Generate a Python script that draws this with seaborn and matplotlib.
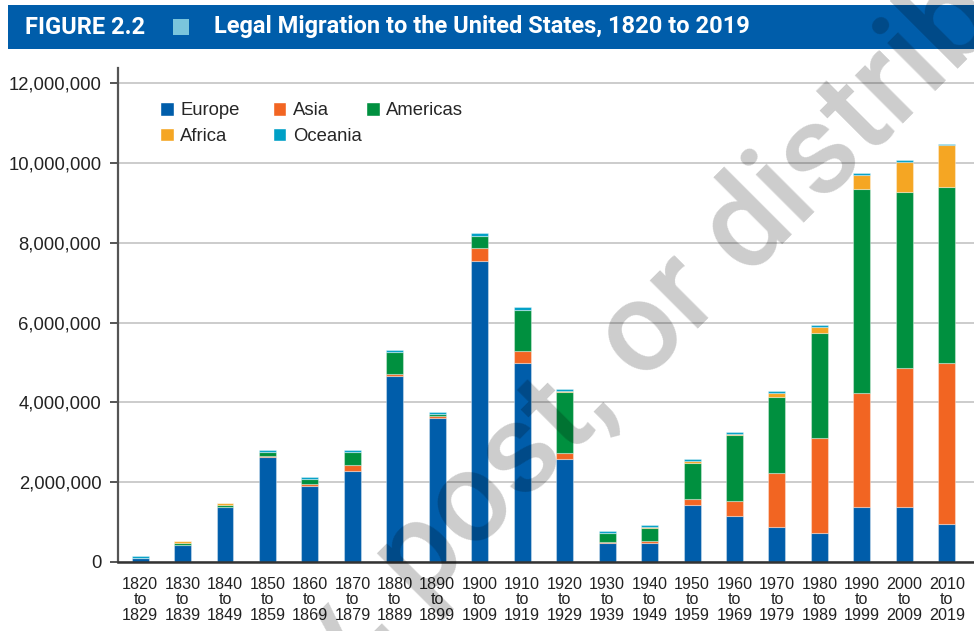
import numpy as np
import pandas as pd
import matplotlib
matplotlib.use("Agg")
import matplotlib.pyplot as plt
import seaborn as sns
from matplotlib.patches import Patch, Rectangle
from matplotlib.ticker import FuncFormatter

# decades on the x axis
decades = ["1820\nto\n1829", "1830\nto\n1839", "1840\nto\n1849", "1850\nto\n1859",
           "1860\nto\n1869", "1870\nto\n1879", "1880\nto\n1889", "1890\nto\n1899",
           "1900\nto\n1909", "1910\nto\n1919", "1920\nto\n1929", "1930\nto\n1939",
           "1940\nto\n1949", "1950\nto\n1959", "1960\nto\n1969", "1970\nto\n1979",
           "1980\nto\n1989", "1990\nto\n1999", "2000\nto\n2009", "2010\nto\n2019"]

# immigrants per decade, millions
europe = [0.10, 0.42, 1.37, 2.64, 1.91, 2.27, 4.67, 3.62, 7.55, 4.99,
          2.57, 0.47, 0.48, 1.43, 1.15, 0.87, 0.72, 1.39, 1.39, 0.95]
asia = [0.00, 0.00, 0.01, 0.02, 0.05, 0.15, 0.04, 0.04, 0.33, 0.29,
        0.15, 0.02, 0.05, 0.15, 0.38, 1.37, 2.38, 2.84, 3.47, 4.04]
americas = [0.01, 0.05, 0.05, 0.10, 0.13, 0.33, 0.56, 0.05, 0.28, 1.03,
            1.55, 0.23, 0.33, 0.89, 1.66, 1.90, 2.65, 5.13, 4.41, 4.40]
africa = [0.00, 0.05, 0.04, 0.00, 0.00, 0.00, 0.00, 0.01, 0.01, 0.01,
          0.01, 0.01, 0.01, 0.06, 0.02, 0.10, 0.15, 0.34, 0.76, 1.05]
oceania = [0.04, 0.01, 0.01, 0.05, 0.05, 0.05, 0.05, 0.05, 0.07, 0.06,
           0.05, 0.05, 0.06, 0.05, 0.06, 0.05, 0.04, 0.04, 0.05, 0.04]

regions = ["Europe", "Asia", "Americas", "Africa", "Oceania"]
colors = {"Europe": "#005DAA", "Asia": "#F26522", "Americas": "#00903F",
          "Africa": "#F5A623", "Oceania": "#00A0C6"}
series = {"Europe": europe, "Asia": asia, "Americas": americas,
          "Africa": africa, "Oceania": oceania}

sns.set_style("white")
plt.rcParams["font.family"] = ["Liberation Sans", "DejaVu Sans"]

fig = plt.figure(figsize=(9.74, 6.31), dpi=100)
ax = fig.add_axes([118/974, 1-562/631, 1-118/974, (562-68)/631])

bottom = np.zeros(len(decades))
for r in regions:
    vals = np.array(series[r]) * 1e6
    sns.barplot(x=decades, y=vals, bottom=bottom, color=colors[r], width=0.4,
                saturation=1, errorbar=None, ax=ax,
                edgecolor=(1, 1, 1, 0.35), linewidth=0.8)
    bottom += vals

ax.set_ylim(0, 12.38e6)
ax.set_xlim(-0.52, 19.64)
ax.set_yticks(np.arange(0, 12.1e6, 2e6))
ax.yaxis.set_major_formatter(FuncFormatter(lambda v, p: f"{v:,.0f}"))
ax.yaxis.grid(True, color="#cccccc", linewidth=1.4)
ax.set_axisbelow(True)
for s in ["top", "right"]:
    ax.spines[s].set_visible(False)
ax.spines["left"].set_color("#555555")
ax.spines["left"].set_linewidth(1.6)
ax.spines["bottom"].set_color("#333333")
ax.spines["bottom"].set_linewidth(1.8)
ax.tick_params(axis="y", left=True, length=6, width=1.4, color="#555555",
               labelsize=13.3, pad=6, labelcolor="#222222")
ax.tick_params(axis="x", bottom=False, labelsize=11.6, pad=7, labelcolor="#222222")
for t in ax.get_xticklabels():
    t.set_linespacing(1.05)
ax.set_xlabel("")
ax.set_ylabel("")

# legend: first two columns, then Americas as its own column
leg_kw = dict(loc="upper left", frameon=False, fontsize=13.3, handlelength=0.75,
              handleheight=0.75, handletextpad=0.35, labelspacing=0.45,
              borderpad=0, borderaxespad=0)
h1 = [Patch(facecolor=colors[r], label=r) for r in ["Europe", "Africa", "Asia", "Oceania"]]
leg1 = ax.legend(handles=h1, ncol=2, bbox_to_anchor=(0.049, 0.931), columnspacing=1.78, **leg_kw)
ax.add_artist(leg1)
h2 = [Patch(facecolor=colors["Americas"], label="Americas")]
ax.legend(handles=h2, ncol=1, bbox_to_anchor=(0.2897, 0.931), **leg_kw)

# header band
fig.patches.append(Rectangle((8/974, 1-49/631), 1, 44/631, transform=fig.transFigure,
                             facecolor="#005DAA", edgecolor="none", zorder=0))
fig.patches.append(Rectangle((173/974, 1-35/631), 16/974, 16/631, transform=fig.transFigure,
                             facecolor="#7AC5DC", edgecolor="none", zorder=1))
fig.text(25/974, 1-27/631, "FIGURE 2.2", color="white", fontsize=17, fontweight="bold",
         family="Roboto", va="center", ha="left")
fig.text(214/974, 1-27/631, "Legal Migration to the United States, 1820 to 2019", color="white",
         fontsize=17, fontweight="bold", family="Roboto", va="center", ha="left")

# watermark
fig.text(490/974, 1-488/631, "Do not copy, post, or distribute", fontsize=92,
         color="black", alpha=0.2, rotation=45, ha="center", va="center",
         rotation_mode="anchor", family="Roboto", fontweight="medium", zorder=10)

fig.savefig("out.png", dpi=100)
